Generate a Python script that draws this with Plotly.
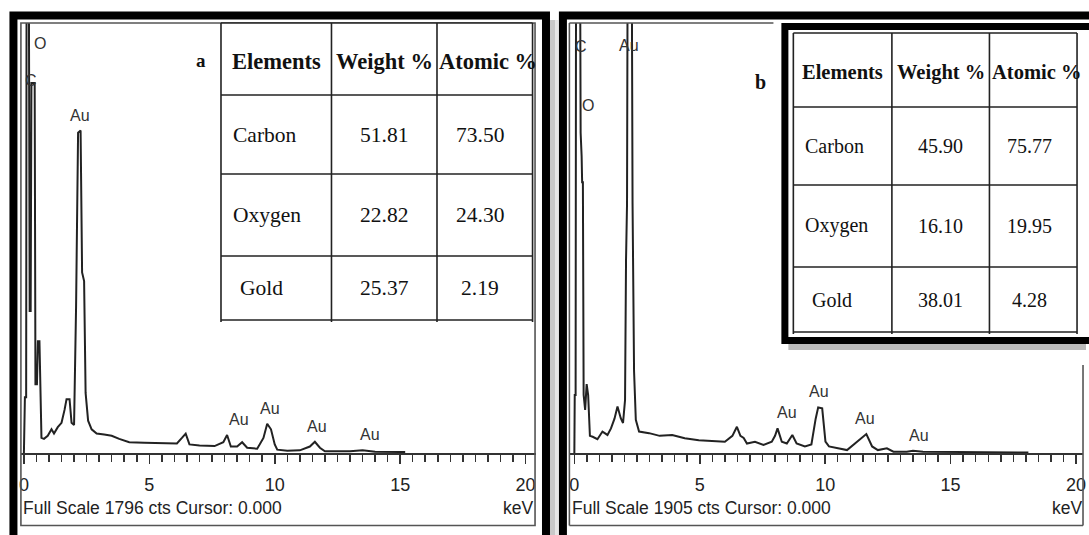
import plotly.graph_objects as go

W, H = 1089, 535

# ---------------- data ----------------
full_scale_a = 1796
full_scale_b = 1905

energy_a = [0.00, 0.04, 0.09, 0.11, 0.19, 0.23, 0.27, 0.30, 0.43, 0.46,
            0.52, 0.56, 0.62, 0.66, 0.70, 0.80, 0.95, 1.10, 1.20, 1.35,
            1.50, 1.62, 1.70, 1.82, 1.90, 2.00, 2.08, 2.16, 2.26, 2.32,
            2.40, 2.46, 2.56, 2.70, 2.90, 3.20, 3.50, 3.80, 4.20, 4.80,
            5.50, 6.10, 6.30, 6.45, 6.60, 7.00, 7.60, 7.95, 8.10, 8.25,
            8.50, 8.70, 8.90, 9.30, 9.55, 9.70, 9.85, 10.00, 10.10, 10.50,
            11.00, 11.40, 11.60, 11.80, 12.00, 13.00, 13.50, 14.00, 15.20]
counts_a = [0, 233, 233, 2335, 2335, 593, 593, 1545, 1545, 287,
            287, 467, 467, 305, 63, 59, 72, 99, 81, 108,
            126, 180, 225, 225, 126, 117, 611, 1338, 1347, 754,
            718, 251, 135, 99, 81, 77, 72, 59, 45, 43,
            41, 40, 63, 81, 36, 31, 29, 45, 75, 27,
            27, 45, 22, 18, 63, 122, 99, 36, 14, 9,
            11, 27, 47, 22, 7, 7, 11, 5, 4]

energy_b = [0.00, 0.015, 0.05, 0.07, 0.22, 0.25, 0.29, 0.31, 0.34, 0.37,
            0.43, 0.49, 0.55, 0.62, 0.73, 0.92, 1.12, 1.32, 1.46, 1.60,
            1.72, 1.85, 1.94, 2.02, 2.06, 2.10, 2.13, 2.28, 2.32, 2.38,
            2.45, 2.58, 2.98, 3.40, 3.90, 4.40, 4.96, 5.50, 6.00, 6.30,
            6.48, 6.62, 6.75, 6.88, 7.20, 7.54, 7.87, 8.00, 8.10, 8.27,
            8.47, 8.69, 8.86, 9.19, 9.45, 9.62, 9.72, 9.88, 10.01, 10.15,
            10.60, 10.87, 11.27, 11.50, 11.64, 11.87, 12.10, 12.46, 12.72, 13.25,
            13.50, 13.90, 15.90, 16.50, 17.40, 18.10]
counts_b = [0, 257, 257, 2477, 2477, 1419, 1314, 1200, 1200, 257,
            191, 305, 257, 76, 72, 61, 95, 80, 109, 152,
            206, 154, 133, 234, 857, 1105, 2477, 2477, 1105, 362,
            147, 95, 88, 76, 80, 65, 57, 53, 50, 76,
            116, 76, 67, 42, 50, 36, 50, 76, 109, 50,
            42, 80, 42, 29, 38, 152, 202, 198, 50, 29,
            21, 13, 50, 72, 84, 29, 13, 21, 6, 6,
            10, 6, 4, 6, 4, 2]

tick_vals = [0, 5, 10, 15, 20]
tick_text = ["0", "5", "10", "15", "20"]

table_header = ["Elements", "Weight %", "Atomic %"]
elements = ["Carbon", "Oxygen", "Gold"]
weight_a = ["51.81", "22.82", "25.37"]
atomic_a = ["73.50", "24.30", "2.19"]
weight_b = ["45.90", "16.10", "38.01"]
atomic_b = ["75.77", "19.95", "4.28"]

# ---------------- helpers (pixel -> paper) ----------------
def fx(x):
    return x / W


def fy(y):
    return 1 - y / H


shapes = []
annotations = []


def line(x0, y0, x1, y1, color="#333", width=1.5):
    shapes.append(dict(type="line", xref="paper", yref="paper",
                       x0=fx(x0), y0=fy(y0), x1=fx(x1), y1=fy(y1),
                       line=dict(color=color, width=width)))


def rect(x0, y0, x1, y1, fill=None, color=None, width=0):
    d = dict(type="rect", xref="paper", yref="paper",
             x0=fx(x0), y0=fy(y0), x1=fx(x1), y1=fy(y1),
             line=dict(width=width, color=color or "rgba(0,0,0,0)"))
    if fill:
        d["fillcolor"] = fill
    shapes.append(d)


def text(s, x, y, size, family="Liberation Sans", xanchor="center",
         color="#222", bold=False):
    if bold:
        s = "<b>" + s + "</b>"
    annotations.append(dict(text=s, xref="paper", yref="paper",
                            x=fx(x), y=fy(y), xanchor=xanchor, yanchor="middle",
                            showarrow=False,
                            font=dict(family=family, size=size, color=color)))


# ---------------- figure ----------------
fig = go.Figure()
line_style = dict(color="#222", width=2)
fig.add_trace(go.Scatter(x=energy_a, y=counts_a, mode="lines", line=line_style,
                         xaxis="x", yaxis="y", showlegend=False, hoverinfo="skip"))
fig.add_trace(go.Scatter(x=energy_b, y=counts_b, mode="lines", line=line_style,
                         xaxis="x2", yaxis="y2", showlegend=False, hoverinfo="skip"))

# axis geometry (pixels)
ax_top, ax_base = 23, 453
a_left, a_right = 19, 536
b_left, b_right = 570, 1086
px_per_kev = 25.2
a_zero, b_zero = 22, 575


def xaxis(dom_l, dom_r, zero, anchor):
    return dict(domain=[fx(dom_l), fx(dom_r)], anchor=anchor,
                range=[(dom_l - zero) / px_per_kev, (dom_r - zero) / px_per_kev],
                showline=True, linecolor="#333", linewidth=2,
                ticks="outside", ticklen=9, tickwidth=1.6, tickcolor="#333",
                tickvals=tick_vals, ticktext=tick_text,
                tickfont=dict(family="Liberation Sans", size=18, color="#222"),
                ticklabelstandoff=5, ticklabeloverflow="allow",
                minor=dict(dtick=0.5, tick0=0, ticks="outside", ticklen=7,
                           tickwidth=1.5, tickcolor="#333", showgrid=False),
                showgrid=False, zeroline=False, fixedrange=True)


def yaxis(anchor, fs):
    return dict(domain=[fy(ax_base), fy(ax_top)], range=[0, fs], visible=False,
                anchor=anchor, fixedrange=True)


# ---------------- panel frames ----------------
# shadows
rect(550, 20, 556, 535, fill="#c8c8c8")
rect(556, 20, 559, 535, fill="#e6e6e6")
# panel a outer thick border and inner frame
rect(11.5, 15.5, 546.5, 560, color="black", width=8)
rect(a_left, ax_top, 535.5, 525.5, color="#555", width=1.6)
# panel b outer thick border
rect(563.5, 15.5, 1100, 560, color="black", width=8)
line(b_left, ax_top, 775, ax_top, "#555", 1.6)
line(b_left, ax_top, b_left, 525.5, "#555", 1.6)
line(b_left, 525.5, b_right, 525.5, "#555", 1.6)
line(b_right, 365, b_right, 525.5, "#555", 1.6)


# ---------------- tables ----------------
def draw_table(cols, rows, weights, atomics, hsize, bsize, col2_shift):
    rect(cols[0], rows[0], cols[-1], rows[-1], fill="white")
    for c in cols:
        line(c, rows[0], c, rows[-1] + 2, "#222", 1.6)
    for r in rows:
        line(cols[0], r, cols[-1], r, "#222", 1.6)
    for j, h in enumerate(table_header):
        cx = (cols[j] + cols[j + 1]) / 2 + (3 if j == 2 else 0)
        text(h, cx, (rows[0] + rows[1]) / 2 + 2, hsize,
             family="Liberation Serif", color="#111", bold=True)
    for i in range(len(elements)):
        cy = (rows[i + 1] + rows[i + 2]) / 2
        text(elements[i], cols[0] + 10 + (7 if i == 2 else 0), cy, bsize,
             family="Liberation Serif", xanchor="left", color="#111")
        text(weights[i], (cols[1] + cols[2]) / 2, cy, bsize,
             family="Liberation Serif", color="#111")
        text(atomics[i], (cols[2] + cols[3]) / 2 + col2_shift, cy, bsize,
             family="Liberation Serif", color="#111")


draw_table([220, 331, 437, 533], [23, 95, 174, 256, 320],
           weight_a, atomic_a, 22.5, 21.5, -5)

# table b with thick frame and shadow
rect(790, 343, 1089, 350, fill="#bbbbbb")
rect(786.5, 26.5, 1100, 340.5, fill="white", color="black", width=7)
draw_table([795, 894, 992, 1080], [33, 107, 185, 267, 332],
           weight_b, atomic_b, 20.5, 20, -4)

# ---------------- labels ----------------
text("a", 200, 60, 19, family="Liberation Serif", color="#111", bold=True)
text("b", 762, 82, 20, family="Liberation Serif", color="#111", bold=True)

peak_labels = [("O", 38, 44), ("C", 29, 80), ("Au", 78, 116), ("Au", 238, 419),
               ("Au", 269, 408), ("Au", 316, 426), ("Au", 370, 434),
               ("C", 582, 47), ("Au", 630, 45), ("O", 589, 105),
               ("Au", 789, 412), ("Au", 821, 391), ("Au", 867, 418),
               ("Au", 921, 435)]
for s, x, y in peak_labels:
    text(s, x, y, 16, color="#333")

text("Full Scale %d cts Cursor: 0.000" % full_scale_a, 19, 508, 17.5, xanchor="left")
text("keV", 535, 508, 17.5, xanchor="right")
text("Full Scale %d cts Cursor: 0.000" % full_scale_b, 571, 508, 17.5, xanchor="left")
text("keV", 1087, 508, 17.5, xanchor="right")

fig.update_layout(
    width=W, height=H,
    margin=dict(l=0, r=0, t=0, b=0),
    paper_bgcolor="white", plot_bgcolor="white",
    xaxis=xaxis(a_left, a_right, a_zero, "y"),
    yaxis=yaxis("x", full_scale_a),
    xaxis2=xaxis(b_left, b_right, b_zero, "y2"),
    yaxis2=yaxis("x2", full_scale_b),
    shapes=shapes, annotations=annotations,
    showlegend=False,
)

fig.write_html("out.html",
               config={"displayModeBar": False, "staticPlot": True},
               post_script="document.body.style.margin='0';"
                           "document.body.style.overflow='hidden';")
